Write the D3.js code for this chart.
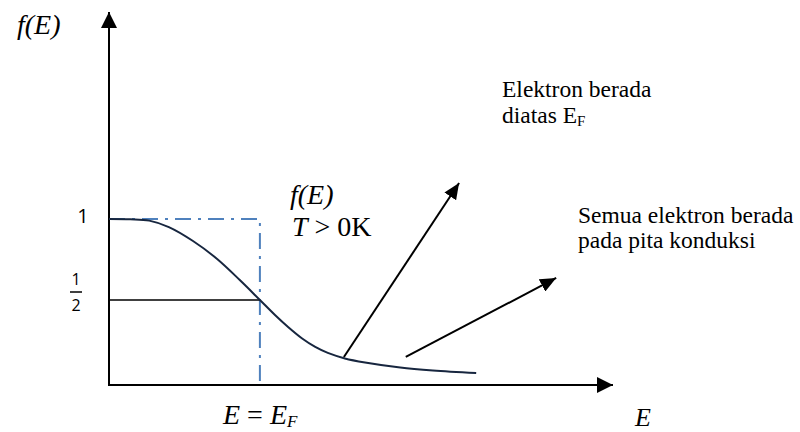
<!DOCTYPE html>
<html>
<head>
<meta charset="utf-8">
<script src="https://cdn.jsdelivr.net/npm/d3@7"></script>
<style>
  html, body { margin: 0; padding: 0; background: #ffffff; }
  svg { display: block; }
  text { font-family: "Liberation Serif", "Times New Roman", serif; fill: #000; }
</style>
</head>
<body>
<svg id="chart" width="800" height="432"></svg>
<script>
// Fermi–Dirac occupation f(E) at T > 0 K (energy in arbitrary units, E_F = 3)
const energy    = [0, 0.42, 0.80, 1.19, 1.67, 2.15, 2.60, 3.00, 3.30, 3.56, 3.84, 4.10, 4.35, 4.69, 5.09, 5.79, 6.44, 7.30];
const occupancy = [1.0, 0.998, 0.990, 0.950, 0.864, 0.753, 0.623, 0.5, 0.407, 0.333, 0.262, 0.210, 0.173, 0.139, 0.114, 0.083, 0.065, 0.049];

const fermiEnergy = 3;
const stepLevels  = [1, 0.5];          // f = 1 (T = 0 K) and f = 1/2 at E_F
const tickLabels  = ["1", "1", "2"];   // "1" and the stacked fraction 1/2

// Annotation arrows: [E start, f start, E end, f end]
const arrowStartE = [4.67, 5.90];
const arrowStartF = [0.148, 0.148];
const arrowEndE   = [6.96, 8.89];
const arrowEndF   = [1.222, 0.636];

const svg = d3.select("#chart");

const x = d3.scaleLinear().domain([0, 10]).range([109, 612]);
const y = d3.scaleLinear().domain([-0.025, 1]).range([385, 219]);

// Arrowhead markers
const defs = svg.append("defs");
function marker(id, len, half) {
  defs.append("marker")
    .attr("id", id)
    .attr("viewBox", `0 ${-half} ${len} ${2 * half}`)
    .attr("refX", len).attr("refY", 0)
    .attr("markerWidth", len).attr("markerHeight", 2 * half)
    .attr("markerUnits", "userSpaceOnUse")
    .attr("orient", "auto")
    .append("path")
    .attr("d", `M0,${-half}L${len},0L0,${half}Z`)
    .attr("fill", "#000");
}
marker("axisHead", 16, 8);
marker("noteHead", 16, 7);

// Axes
const yTop = y.invert(12);
const xRight = x.domain()[1];
svg.append("line")
  .attr("x1", x(0)).attr("y1", y(-0.025))
  .attr("x2", x(0)).attr("y2", y(yTop))
  .attr("stroke", "#000").attr("stroke-width", 2)
  .attr("marker-end", "url(#axisHead)");
svg.append("line")
  .attr("x1", x(0) - 1).attr("y1", y(-0.025))
  .attr("x2", x(xRight) + 1).attr("y2", y(-0.025))
  .attr("stroke", "#000").attr("stroke-width", 2)
  .attr("marker-end", "url(#axisHead)");

// T = 0 K step: dash-dot box at f = 1 and E = E_F
svg.append("path")
  .attr("d", `M${x(0)},${y(stepLevels[0])}H${x(fermiEnergy)}V${y(-0.025)}`)
  .attr("fill", "none")
  .attr("stroke", "#4f81bd").attr("stroke-width", 2)
  .attr("stroke-dasharray", "16,7,3,7");

// f = 1/2 level up to E_F
svg.append("line")
  .attr("x1", x(0)).attr("y1", y(stepLevels[1]))
  .attr("x2", x(fermiEnergy)).attr("y2", y(stepLevels[1]))
  .attr("stroke", "#000").attr("stroke-width", 1.6);

// Occupation curve
const pts = energy.map((e, i) => [e, occupancy[i]]);
svg.append("path")
  .datum(pts)
  .attr("d", d3.line().x(d => x(d[0])).y(d => y(d[1])).curve(d3.curveCatmullRom.alpha(0.5)))
  .attr("fill", "none")
  .attr("stroke", "#17263f").attr("stroke-width", 2);

// Annotation arrows
arrowStartE.forEach((e, i) => {
  svg.append("line")
    .attr("x1", x(e)).attr("y1", y(arrowStartF[i]))
    .attr("x2", x(arrowEndE[i])).attr("y2", y(arrowEndF[i]))
    .attr("stroke", "#000").attr("stroke-width", 2)
    .attr("marker-end", "url(#noteHead)");
});

// Level labels on the f(E) axis
const sans = "'Open Sans', 'Noto Sans', sans-serif";
svg.append("text")
  .attr("x", 83).attr("y", 223).attr("text-anchor", "middle")
  .style("font-family", sans).style("font-size", "20px")
  .text(tickLabels[0]);
const half = svg.append("g");
half.append("text").attr("x", 76).attr("y", 285).attr("text-anchor", "middle")
  .style("font-family", sans).style("font-size", "16px").text(tickLabels[1]);
half.append("line").attr("x1", 70).attr("x2", 82).attr("y1", 292).attr("y2", 292)
  .attr("stroke", "#000").attr("stroke-width", 1.5);
half.append("text").attr("x", 76).attr("y", 311).attr("text-anchor", "middle")
  .style("font-family", sans).style("font-size", "16px").text(tickLabels[2]);

const fs = "23.5px";
const big = "28px";

// Axis titles
svg.append("text").attr("x", 17).attr("y", 34).style("font-size", big).style("font-style", "italic").text("f(E)");
svg.append("text").attr("x", 635).attr("y", 426).style("font-size", "26px").style("font-style", "italic").text("E");

const ef = svg.append("text").attr("x", 223).attr("y", 424).style("font-size", big);
ef.append("tspan").style("font-style", "italic").text("E");
ef.append("tspan").text(" = ");
ef.append("tspan").style("font-style", "italic").text("E");
ef.append("tspan").style("font-style", "italic").style("font-size", "17px").attr("dy", 3).text("F");

// Curve label
svg.append("text").attr("x", 290).attr("y", 204).style("font-size", big).style("font-style", "italic").text("f(E)");
const tl = svg.append("text").attr("x", 292).attr("y", 236).style("font-size", big);
tl.append("tspan").style("font-style", "italic").text("T");
tl.append("tspan").text(" > 0K");

// Notes
const n1 = svg.append("text").style("font-size", fs);
n1.append("tspan").attr("x", 502).attr("y", 97).text("Elektron berada");
const n1b = n1.append("tspan").attr("x", 502).attr("y", 123);
n1b.append("tspan").text("diatas E");
n1b.append("tspan").style("font-size", "15px").attr("dy", 3).text("F");

const n2 = svg.append("text").style("font-size", fs);
n2.append("tspan").attr("x", 578).attr("y", 223).text("Semua elektron berada");
n2.append("tspan").attr("x", 578).attr("y", 248).text("pada pita konduksi");
</script>
</body>
</html>
